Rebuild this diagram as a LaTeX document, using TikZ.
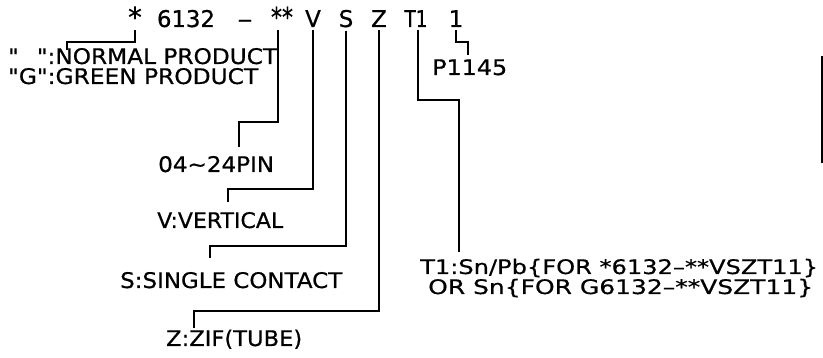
\documentclass[tikz,border=0pt]{standalone}
\usepackage{fontspec}
\usepackage{graphicx}
\newfontfamily\cadfont[FakeBold=0.6]{DejaVu Sans}
\newsavebox\fitbox
\newcommand\fitto[2]{\sbox\fitbox{#2}\pgfmathsetmacro\fitfac{#1/\the\wd\fitbox}\scalebox{\fitfac}[1]{\usebox\fitbox}}
\begin{document}
\begin{tikzpicture}[x=1pt,y=-1pt,
  lbl/.style={anchor=base west,inner sep=0pt,font=\cadfont\fontsize{21.5}{21.5}\selectfont},
  small/.style={lbl,font=\cadfont\fontsize{20}{20}\selectfont},
  top/.style={anchor=base,inner xsep=0pt,inner ysep=3pt,font=\cadfont\fontsize{23}{23}\selectfont},
  conn/.style={line width=1.5pt}]
\useasboundingbox (0,0) rectangle (823,358);
% top code line
\node[top] (star) at (135,27) {\scalebox{1.2}{*}};
\node[top] (n6132) at (186,27) {\fitto{58pt}{6132}};
\node[top] (dash) at (245,27) {\fitto{15pt}{\textendash}};
\node[top] (ss) at (282,27) {\fitto{22pt}{\scalebox{1.2}{**}}};
\node[top] (V) at (313,27) {V};
\node[top] (S) at (346,27) {S};
\node[top] (Z) at (379,27) {Z};
\node[top] (T1) at (416,27) {\fitto{23pt}{T1}};
\node[top] (one) at (456,27) {1};
% labels
\node[lbl] (lab1) at (8,64) {\fitto{269pt}{"\phantom{G}":NORMAL PRODUCT}};
\node[lbl] (lab2) at (8,84) {\fitto{250pt}{"G":GREEN PRODUCT}};
\node[lbl] (pin) at (158,172) {\fitto{116pt}{04\textasciitilde24PIN}};
\node[lbl] (vert) at (157,228) {\fitto{126pt}{V:VERTICAL}};
\node[lbl] (single) at (120,288) {\fitto{222pt}{S:SINGLE CONTACT}};
\node[lbl] (zif) at (166,346) {\fitto{136pt}{Z:ZIF(TUBE)}};
\node[lbl] (p1145) at (432,75) {\fitto{75pt}{P1145}};
\node[small] (t1a) at (420,274) {\fitto{398pt}{T1:Sn/Pb\{FOR *6132\textendash**VSZT11\}}};
\node[small] (t1b) at (428,294) {\fitto{385pt}{OR Sn\{FOR G6132\textendash**VSZT11\}}};
% elbow coordinates
\coordinate (k1) at (67,42);  \coordinate (k1e) at (67,50);
\coordinate (k2) at (239,122); \coordinate (k2e) at (239,147);
\coordinate (k3) at (228,189); \coordinate (k3e) at (228,202);
\coordinate (k4) at (210,246); \coordinate (k4e) at (210,258);
\coordinate (k5) at (194,311); \coordinate (k5e) at (194,328);
\coordinate (k6) at (459,100); \coordinate (k6e) at (459,252);
\coordinate (k7) at (468,42);  \coordinate (k7e) at (468,55);
% connectors
\draw[conn] (star.south) |- (k1) -- (k1e);
\draw[conn] ([xshift=-4pt]ss.south) |- (k2) -- (k2e);
\draw[conn] (V.south) |- (k3) -- (k3e);
\draw[conn] (S.south) |- (k4) -- (k4e);
\draw[conn] (Z.south) |- (k5) -- (k5e);
\draw[conn] ([xshift=2pt]T1.south) |- (k6) -- (k6e);
\draw[conn] (one.south) |- (k7) -- (k7e);
% right edge mark
\draw[line width=2.2pt] (822,56) -- (822,163);
\end{tikzpicture}
\end{document}
